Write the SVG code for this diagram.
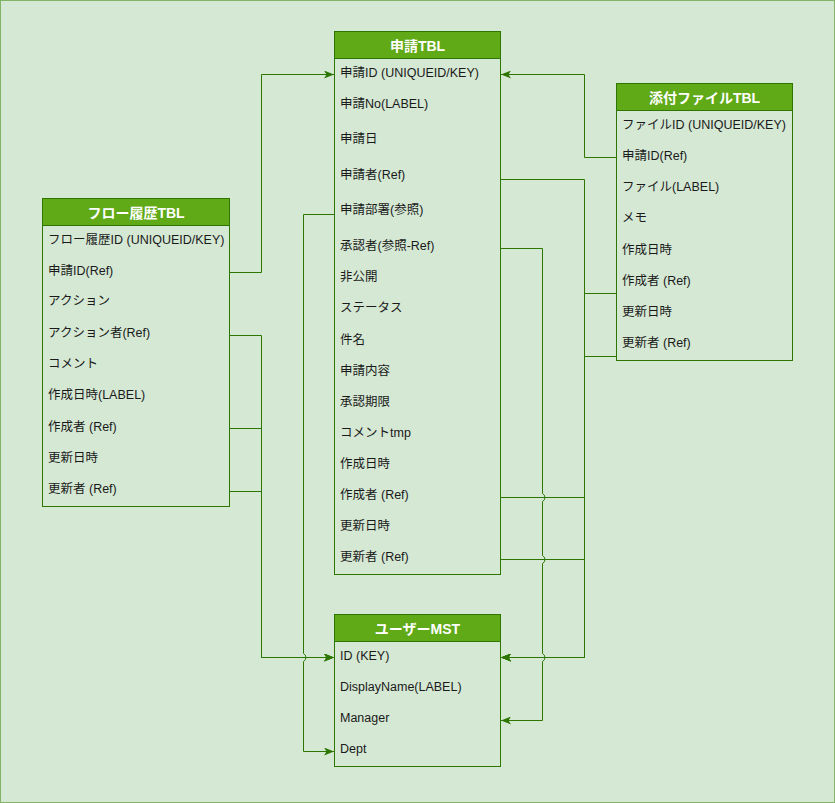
<svg xmlns="http://www.w3.org/2000/svg" width="835" height="803" viewBox="0 0 835 803">
<defs>
<marker id="arr" viewBox="0 0 10 8" refX="10" refY="4" markerWidth="10" markerHeight="8" markerUnits="userSpaceOnUse" orient="auto">
<path d="M0,0 L10,4 L0,8 L2.5,4 z" fill="#2D7600"/>
</marker>
<style>
.body{fill:#d5e8d4;stroke:#2D7600;stroke-width:1}
.head{fill:#60a917;stroke:#2D7600;stroke-width:1}
.ht{font-family:"Liberation Sans","Noto Sans CJK JP",sans-serif;font-size:14px;font-weight:bold;fill:#ffffff;text-anchor:middle;dominant-baseline:central}
.t{font-family:"Liberation Sans","Noto Sans CJK JP",sans-serif;font-size:12.5px;fill:#1a1a1a;dominant-baseline:central}
.e{fill:none;stroke:#2D7600;stroke-width:1}
.ea{fill:none;stroke:#2D7600;stroke-width:1;marker-end:url(#arr)}
</style>
</defs>
<rect x="0.5" y="0.5" width="834" height="802" fill="#d5e8d4" stroke="#82b366" stroke-width="1"/>

<g id="connectors">
<path class="ea" d="M230,272.5 H261.5 V74.5 H334"/>
<path class="ea" d="M230,335.5 H261.5 V657.5 H334"/>
<path class="ea" d="M230,428.5 H261.5 V657.5 H334"/>
<path class="ea" d="M230,491.5 H261.5 V657.5 H334"/>
<path class="ea" d="M334,214.5 H303.5 V653.5 A4.5,4.5 0 0 1 303.5,661.5 V751.5 H334"/>
<path class="ea" d="M616,157.5 H584.5 V74.5 H501"/>
<path class="ea" d="M501,179.5 H584.5 V657.5 H501"/>
<path class="ea" d="M501,497.5 H584.5 V657.5 H501"/>
<path class="ea" d="M501,559.5 H584.5 V657.5 H501"/>
<path class="ea" d="M616,293.5 H584.5 V657.5 H501"/>
<path class="ea" d="M616,356.5 H584.5 V657.5 H501"/>
<path class="ea" d="M501,248.5 H542.5 V493.5 A4.5,4.5 0 0 1 542.5,501.5 V555.5 A4.5,4.5 0 0 1 542.5,563.5 V653.5 A4.5,4.5 0 0 1 542.5,661.5 V720.5 H501"/>
</g>

<g id="shinsei">
<rect class="body" x="334.5" y="31.5" width="166" height="543"/>
<rect class="head" x="334.5" y="31.5" width="166" height="27"/>
<text class="ht" x="417.5" y="46">申請TBL</text>
<text class="t" x="340" y="73">申請ID (UNIQUEID/KEY)</text>
<text class="t" x="340" y="104">申請No(LABEL)</text>
<text class="t" x="340" y="139">申請日</text>
<text class="t" x="340" y="175">申請者(Ref)</text>
<text class="t" x="340" y="210">申請部署(参照)</text>
<text class="t" x="340" y="246">承認者(参照-Ref)</text>
<text class="t" x="340" y="277">非公開</text>
<text class="t" x="340" y="308">ステータス</text>
<text class="t" x="340" y="340">件名</text>
<text class="t" x="340" y="371">申請内容</text>
<text class="t" x="340" y="402">承認期限</text>
<text class="t" x="340" y="433">コメントtmp</text>
<text class="t" x="340" y="464">作成日時</text>
<text class="t" x="340" y="495">作成者 (Ref)</text>
<text class="t" x="340" y="526">更新日時</text>
<text class="t" x="340" y="557">更新者 (Ref)</text>
</g>

<g id="flow">
<rect class="body" x="42.5" y="198.5" width="187" height="308"/>
<rect class="head" x="42.5" y="198.5" width="187" height="27"/>
<text class="ht" x="136" y="213">フロー履歴TBL</text>
<text class="t" x="48" y="240">フロー履歴ID (UNIQUEID/KEY)</text>
<text class="t" x="48" y="271">申請ID(Ref)</text>
<text class="t" x="48" y="301">アクション</text>
<text class="t" x="48" y="333">アクション者(Ref)</text>
<text class="t" x="48" y="364">コメント</text>
<text class="t" x="48" y="395">作成日時(LABEL)</text>
<text class="t" x="48" y="427">作成者 (Ref)</text>
<text class="t" x="48" y="458">更新日時</text>
<text class="t" x="48" y="489">更新者 (Ref)</text>
</g>

<g id="tenpu">
<rect class="body" x="616.5" y="83.5" width="176" height="277"/>
<rect class="head" x="616.5" y="83.5" width="176" height="27"/>
<text class="ht" x="704.5" y="98">添付ファイルTBL</text>
<text class="t" x="622" y="125">ファイルID (UNIQUEID/KEY)</text>
<text class="t" x="622" y="156">申請ID(Ref)</text>
<text class="t" x="622" y="187">ファイル(LABEL)</text>
<text class="t" x="622" y="218">メモ</text>
<text class="t" x="622" y="250">作成日時</text>
<text class="t" x="622" y="281">作成者 (Ref)</text>
<text class="t" x="622" y="312">更新日時</text>
<text class="t" x="622" y="343">更新者 (Ref)</text>
</g>

<g id="user">
<rect class="body" x="334.5" y="614.5" width="166" height="152"/>
<rect class="head" x="334.5" y="614.5" width="166" height="27"/>
<text class="ht" x="417.5" y="629">ユーザーMST</text>
<text class="t" x="340" y="656">ID (KEY)</text>
<text class="t" x="340" y="687">DisplayName(LABEL)</text>
<text class="t" x="340" y="718">Manager</text>
<text class="t" x="340" y="749">Dept</text>
</g>
</svg>
